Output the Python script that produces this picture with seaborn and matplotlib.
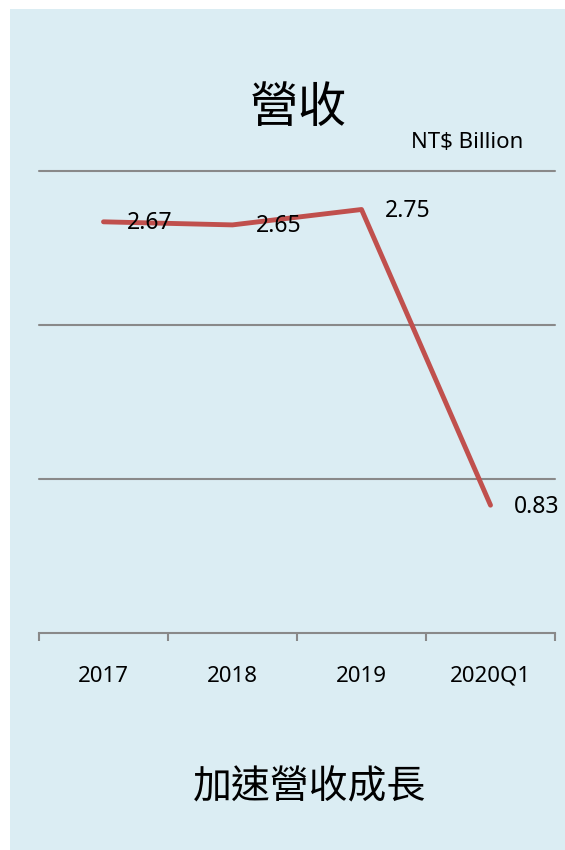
import matplotlib
matplotlib.use("Agg")
import matplotlib.pyplot as plt
import seaborn as sns
import pandas as pd
from matplotlib.patches import Rectangle

categories = ["2017", "2018", "2019", "2020Q1"]
revenue = [2.67, 2.65, 2.75, 0.83]
value_labels = ["2.67", "2.65", "2.75", "0.83"]

title = "營收"
unit = "NT$ Billion"
footer = "加速營收成長"

sns.set_theme(style="white")
plt.rcParams["font.family"] = ["Noto Sans CJK TC", "DejaVu Sans"]

W, H = 565, 850
bg = "#DBEDF3"
fig = plt.figure(figsize=(W / 100, H / 100), dpi=100)
fig.patch.set_facecolor("white")
fig.patches.append(Rectangle((10 / W, 0), 1 - 10 / W, 1 - 9 / H,
                             transform=fig.transFigure, facecolor=bg,
                             edgecolor="none", zorder=-10))

# axes: x from 39 to 555 px, y from 171 (3.0) to 633 (0.0)
left, right = 39 / W, 555 / W
top, bottom = 1 - 171 / H, 1 - 633 / H
ax = fig.add_axes([left, bottom, right - left, top - bottom])
ax.set_facecolor("none")
ax.set_zorder(5)

df = pd.DataFrame({"cat": categories, "val": revenue})
df["x"] = range(len(categories))
sns.lineplot(data=df, x="x", y="val", ax=ax, color="#C0504D", linewidth=3.5,
             solid_capstyle="round", zorder=3)

ax.set_xlim(-0.5, len(categories) - 0.5)
ax.set_ylim(0, 3)
ax.set_yticks([1, 2, 3])
ax.yaxis.grid(True, color="#898989", linewidth=1.5)
for gl in ax.get_ygridlines():
    gl.set_clip_on(False)
ax.xaxis.grid(False)
ax.tick_params(axis="y", left=False, labelleft=False)
for s in ["left", "right", "top"]:
    ax.spines[s].set_visible(False)
ax.spines["bottom"].set_color("#898989")
ax.spines["bottom"].set_linewidth(1.5)

# boundary ticks
ax.set_xticks([i - 0.5 for i in range(len(categories) + 1)])
ax.set_xticklabels([])
ax.tick_params(axis="x", bottom=True, length=6, width=1.5, color="#898989",
               direction="out")
for i, c in enumerate(categories):
    ax.text(i, -0.28, c, ha="center", va="center", fontsize=16,
            color="black", family=["Noto Sans", "DejaVu Sans"])

ax.set_xlabel("")
ax.set_ylabel("")

for i, (v, lab) in enumerate(zip(revenue, value_labels)):
    ax.annotate(lab, (i, v), xytext=(17, -1), textcoords="offset points",
                ha="left", va="center", fontsize=16.5, color="black",
                family=["Noto Sans", "DejaVu Sans"], zorder=4)

fig.text(298 / W, 1 - 108 / H, title, ha="center", va="center", fontsize=35,
         color="black")
fig.text(467 / W, 1 - 142 / H, unit, ha="center", va="center", fontsize=16,
         color="black", family=["Noto Sans", "DejaVu Sans"])
fig.text(310 / W, 1 - 787 / H, footer, ha="center", va="center", fontsize=28,
         color="black")

fig.savefig("out.png", dpi=100, facecolor="white")
